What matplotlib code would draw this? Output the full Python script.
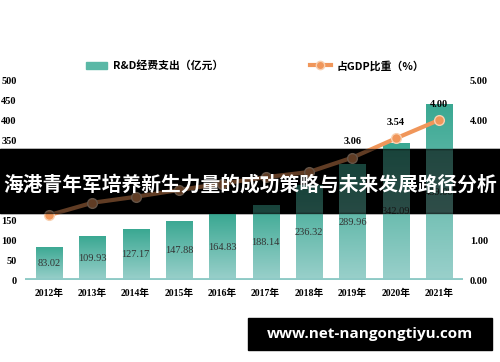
import matplotlib.pyplot as plt
import numpy as np
from matplotlib.colors import LinearSegmentedColormap
from matplotlib.lines import Line2D
from matplotlib.patches import Patch, Rectangle

years = ['2012年', '2013年', '2014年', '2015年', '2016年',
         '2017年', '2018年', '2019年', '2020年', '2021年']
spend = [83.02, 109.93, 127.17, 147.88, 164.83, 188.14, 236.32, 289.96, 342.09, 439.0]
ratio = [1.62, 1.93, 2.08, 2.25, 2.41, 2.57, 2.70, 3.06, 3.54, 4.00]

num_font = ['Liberation Serif', 'Noto Sans CJK SC']
cjk_font = ['Noto Sans CJK SC', 'DejaVu Sans']

fig = plt.figure(figsize=(5, 3.62), dpi=100)
ax = fig.add_axes([0.05, 0.2265, 0.876, 0.5525])
ax.patch.set_visible(False)
x = np.arange(len(years))

# banner band: solid black behind the chart, dimming layer on top of it
band_y, band_h = 1 - 213 / 362, 64 / 362
fig.patches.append(Rectangle((0, band_y), 1, band_h, transform=fig.transFigure,
                             color='black', zorder=-5))

bars = ax.bar(x, spend, width=0.6, color='none', zorder=2)
grad = np.linspace(0, 1, 256).reshape(-1, 1)
cmap = LinearSegmentedColormap.from_list('g', ['#9ad0cb', '#3aa892'])
for b in bars:
    im = ax.imshow(grad, cmap=cmap, aspect='auto', origin='lower',
                   extent=[b.get_x(), b.get_x() + b.get_width(), 0, b.get_height()],
                   zorder=2)
    im.set_clip_path(b)
    ax.text(b.get_x() + b.get_width() / 2, b.get_height() / 2, f'{b.get_height():.2f}',
            ha='center', va='center', fontsize=7.5, color='#333333',
            family='Liberation Serif', zorder=3)

ax.set_xlim(-0.55, len(years) - 0.45)
ax.set_ylim(0, 500)
ax.set_yticks(np.arange(0, 501, 50))
ax.axhline(0, color='#8ecac6', lw=3.5, zorder=3)
ax.set_xticks(x)
ax.set_xticklabels(years, family=num_font, fontweight='bold', fontsize=7)
for s in ax.spines.values():
    s.set_visible(False)
ax.tick_params(length=0, pad=6)
ax.tick_params(axis='x', pad=6)
for t in ax.get_yticklabels():
    t.set_family('Liberation Serif')
    t.set_fontweight('bold')
    t.set_fontsize(7.5)

ax2 = ax.twinx()
ax2.patch.set_visible(False)
ax2.plot(x, ratio, color='#f0965a', lw=3, marker='o', ms=7,
         mfc='#f0965a', mec='#f8d0b0', mew=1, zorder=4)
for xi, r in zip(x, ratio):
    ax2.annotate(f'{r:.2f}', (xi, r), xytext=(0, 8), textcoords='offset points',
                 ha='center', va='bottom', fontsize=7.5, fontweight='bold',
                 family='Liberation Serif')
ax2.set_ylim(0, 5)
ax2.set_yticks(np.arange(0, 6, 1))
ax2.set_yticklabels([f'{v:.2f}' for v in range(6)])
for s in ax2.spines.values():
    s.set_visible(False)
ax2.tick_params(length=0, pad=5)
for t in ax2.get_yticklabels():
    t.set_family('Liberation Serif')
    t.set_fontweight('bold')
    t.set_fontsize(7.5)

handles = [Patch(color='#5ab8a6'),
           Line2D([], [], color='#f0965a', lw=3, marker='o', ms=6, mec='#f8d0b0')]
fig.legend(handles, ['R&D经费支出（亿元）', '占GDP比重（%）'], loc='center',
           bbox_to_anchor=(0.51, 0.818), ncol=2, frameon=False, columnspacing=8,
           handlelength=2, handletextpad=0.5,
           prop={'family': cjk_font, 'weight': 'bold', 'size': 7.8})

fig.patches.append(Rectangle((0, band_y), 1, band_h, transform=fig.transFigure,
                             color='black', alpha=0.6, zorder=10))
fig.text(0.5, 1 - 185 / 362, '海港青年军培养新生力量的成功策略与未来发展路径分析',
         ha='center', va='center', color='white', fontsize=14.2, fontweight='bold',
         family=cjk_font, zorder=11)
fig.patches.append(Rectangle((248 / 500, 1 - 350 / 362), 244 / 500, 32 / 362,
                             transform=fig.transFigure, color='black', zorder=10))
fig.text(370 / 500, 1 - 334 / 362, 'www.net-nangongtiyu.com', ha='center', va='center',
         color='white', fontsize=11, fontweight='bold', family='Open Sans', zorder=11)

fig.savefig('out.png', dpi=100)
